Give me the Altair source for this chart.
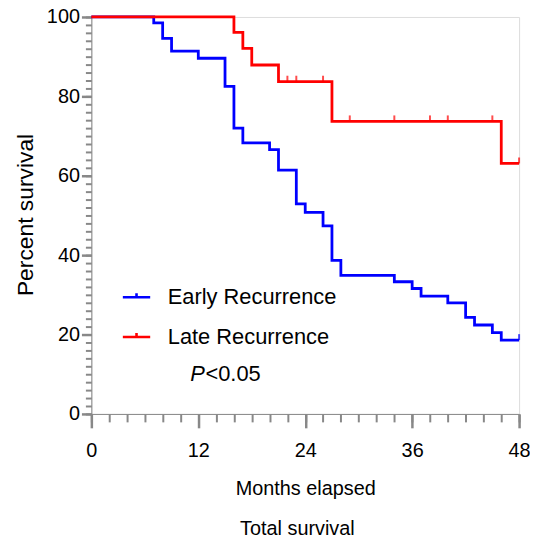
import altair as alt
import pandas as pd

# Kaplan-Meier step points
series_names = ["Early  Recurrence", "Late Recurrence"]
series_colors = ["#0000FF", "#FF0000"]

early_months = [0, 7, 8, 9, 12, 15, 16, 17, 20, 21, 23, 24, 26, 27, 28, 34, 36, 37, 40, 42, 43, 45, 46, 48]
early_surv = [100, 98.5, 94.6, 91.4, 89.6, 82.5, 72.0, 68.3, 66.6, 61.4, 52.9, 50.8, 47.4, 38.7,
              34.9, 33.3, 31.6, 29.7, 28.0, 24.3, 22.4, 20.5, 18.6, 18.6]
late_months = [0, 16, 17, 18, 21, 27, 46, 48]
late_surv = [100, 96.1, 92.1, 87.9, 83.7, 73.7, 63.1, 63.1]

# censored observations
early_cens_months = [48]
early_cens_surv = [18.6]
late_cens_months = [22, 23, 26, 29, 34, 38, 40, 45, 48]
late_cens_surv = [83.7, 83.7, 83.7, 73.7, 73.7, 73.7, 73.7, 73.7, 63.1]

x_major = [0, 12, 24, 36, 48]
x_minor = list(range(0, 49, 2))
y_major = [0, 20, 40, 60, 80, 100]
y_minor = list(range(0, 101, 2))

FONT = "Liberation Sans"

curves = pd.DataFrame({
    "month": early_months + late_months,
    "surv": early_surv + late_surv,
    "group": [series_names[0]] * len(early_months) + [series_names[1]] * len(late_months),
})
cens = pd.DataFrame({
    "month": early_cens_months + late_cens_months,
    "surv": early_cens_surv + late_cens_surv,
    "group": [series_names[0]] * len(early_cens_months) + [series_names[1]] * len(late_cens_months),
})

xscale = alt.Scale(domain=[0, 48], nice=False, zero=False)
yscale = alt.Scale(domain=[0, 100], nice=False)
cscale = alt.Scale(domain=series_names, range=series_colors)

lines = alt.Chart(curves).mark_line(interpolate="step-after", strokeWidth=2.8).encode(
    x=alt.X("month:Q", scale=xscale,
            axis=alt.Axis(values=x_major, orient="bottom", title="Months elapsed",
                          tickSize=14, tickWidth=2.5, labelPadding=13, labelFontSize=20,
                          labelFlush=False,
                          titleFontSize=20, titleFontWeight="normal", titleBaseline="alphabetic",
                          titleY=81, titleX=215.5, titleAlign="center",
                          grid=False, format="d")),
    y=alt.Y("surv:Q", scale=yscale,
            axis=alt.Axis(values=y_major, orient="left", title="Percent survival",
                          tickSize=10, tickWidth=2.5, labelPadding=2, labelFontSize=20,
                          labelFlush=False,
                          titleFontSize=23, titleFontWeight="normal", titleBaseline="alphabetic",
                          titleX=-59, titleY=199, titleAlign="center", titleAngle=270,
                          grid=False, format="d")),
    color=alt.Color("group:N", scale=cscale,
                    legend=alt.Legend(title=None, orient="none", legendX=30, legendY=267,
                                      labelFontSize=22, labelFont=FONT, labelColor="black",
                                      labelLimit=400,
                                      symbolType="M-1,0H1M0,0V-0.3", symbolSize=760,
                                      symbolStrokeWidth=2.6, labelOffset=16, rowPadding=13,
                                      padding=0)),
    detail="group:N",
)

ticks = alt.Chart(cens).mark_tick(orient="vertical", size=6, thickness=2, yOffset=-3).encode(
    x=alt.X("month:Q", scale=xscale, axis=None),
    y=alt.Y("surv:Q", scale=yscale, axis=None),
    color=alt.Color("group:N", scale=cscale, legend=None),
)

minor = alt.Chart(curves).mark_point(opacity=0).encode(
    x=alt.X("month:Q", scale=xscale,
            axis=alt.Axis(values=x_minor, orient="bottom", title=None, labels=False, domain=False,
                          tickSize=8, tickWidth=2, grid=False)),
    y=alt.Y("surv:Q", scale=yscale,
            axis=alt.Axis(values=y_minor, orient="left", title=None, labels=False, domain=False,
                          tickSize=6, tickWidth=2, grid=False)),
)

p_label = alt.Chart(pd.DataFrame({"t": ["P"]})).mark_text(
    font=FONT, fontSize=22, fontStyle="italic", align="left", baseline="alphabetic", color="black"
).encode(text="t:N", x=alt.value(99.7), y=alt.value(366.7))

p_value = alt.Chart(pd.DataFrame({"t": ["<0.05"]})).mark_text(
    font=FONT, fontSize=22, align="left", baseline="alphabetic", color="black"
).encode(text="t:N", x=alt.value(115), y=alt.value(366.7))

caption = alt.Chart(pd.DataFrame({"t": ["Total survival"]})).mark_text(
    font=FONT, fontSize=20, align="center", baseline="alphabetic", color="black"
).encode(text="t:N", x=alt.value(207.6), y=alt.value(522))

chart = alt.layer(lines, ticks, minor, p_label, p_value, caption).resolve_axis(
    x="independent", y="independent"
).properties(
    width=431, height=400,
    padding={"left": 84, "top": 7, "right": 11, "bottom": 126},
    autosize=alt.AutoSizeParams(type="none"),
).configure_view(stroke=None).configure_axis(
    labelFont=FONT, titleFont=FONT, labelColor="black", titleColor="black",
    domainColor="black", tickColor="black", domainWidth=3,
).configure(background="white")

chart.save("out.html", embed_options={"renderer": "svg", "actions": False})
